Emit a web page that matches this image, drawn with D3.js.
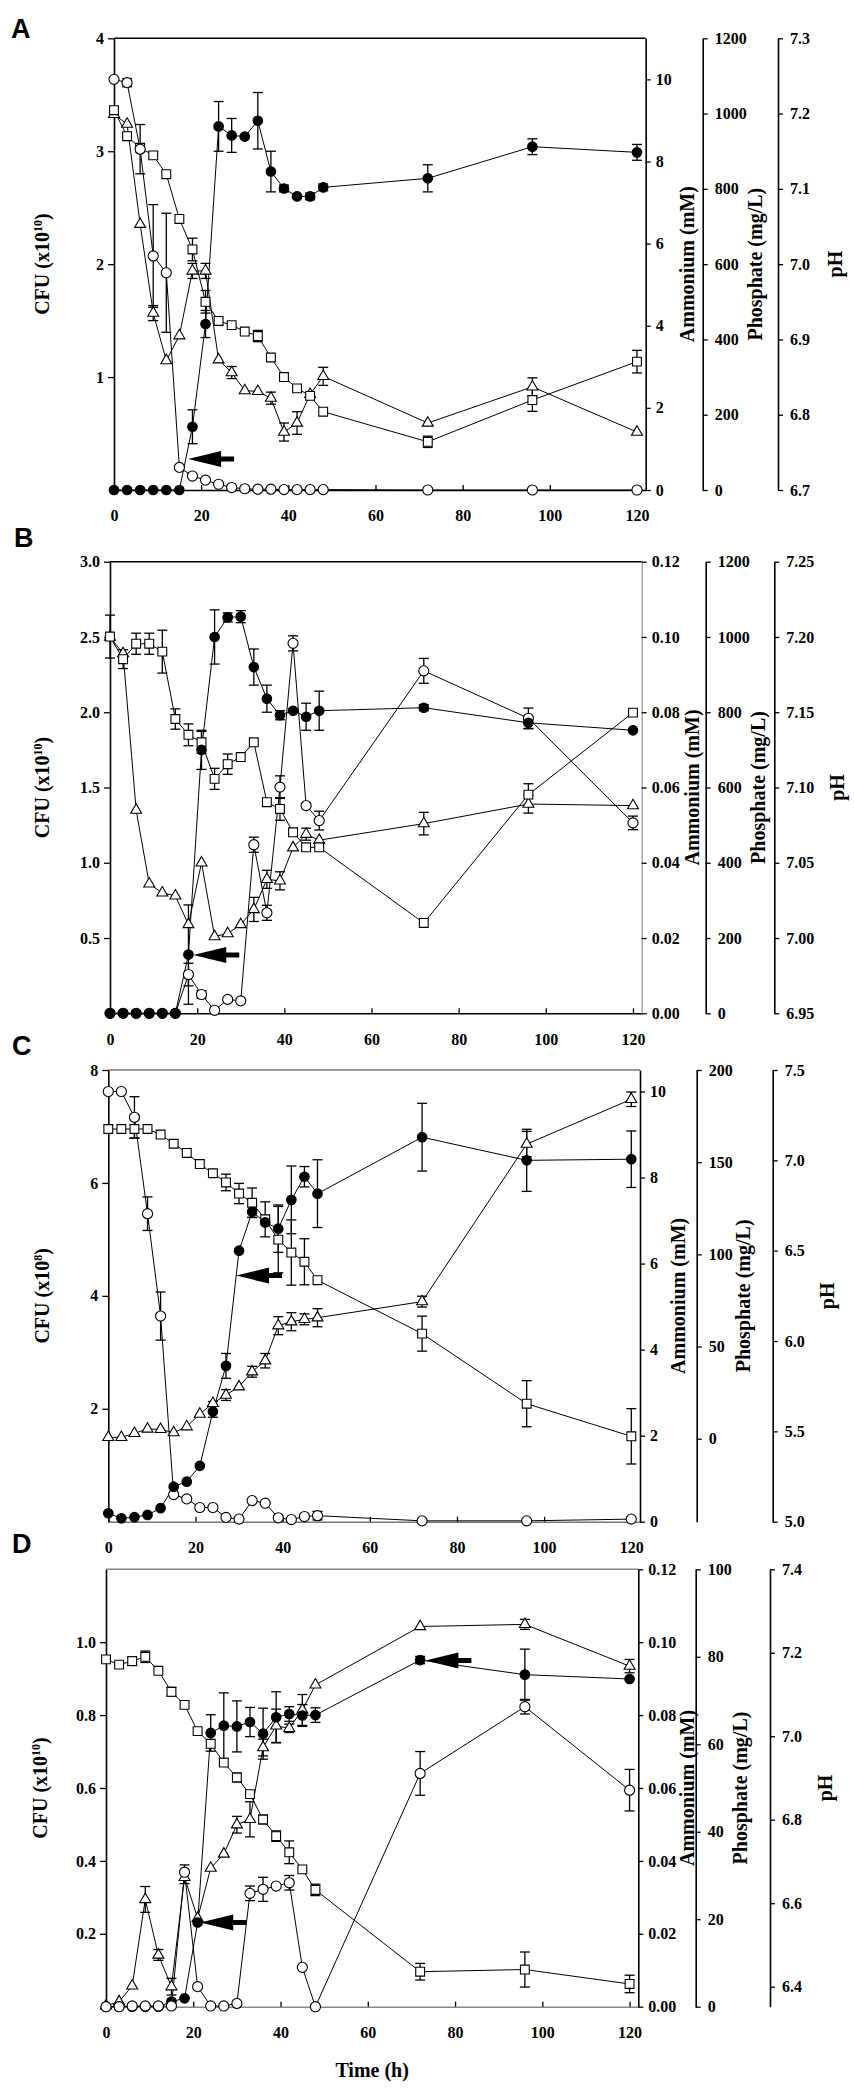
<!DOCTYPE html>
<html>
<head>
<meta charset="utf-8">
<script src="https://cdn.jsdelivr.net/npm/d3@7"></script>
<style>
  body { margin: 0; background: #fff; }
  text { font-family: "Liberation Serif", "Times New Roman", serif; font-weight: bold; }
</style>
</head>
<body>
<svg id="chart"></svg>
<script>
// sampling times (h), same for all four panels
const hours = [0, 3, 6, 9, 12, 15, 18, 21, 24, 27, 30, 33, 36, 39, 42, 45, 48, 72, 96, 120];
const timeTicks = [0, 20, 40, 60, 80, 100, 120];

// ---- Panel A ----
const aCfu     = [0, 0, 0, 0, 0, 0, 0.56, 1.47, 3.22, 3.14, 3.13, 3.27, 2.82, 2.67, 2.60, 2.60, 2.68, 2.76, 3.04, 2.99];
const aCfuErr  = [0, 0, 0, 0, 0, 0, 0.15, 0.12, 0.22, 0.15, 0, 0.25, 0.18, 0.03, 0, 0.03, 0.03, 0.12, 0.07, 0.07];
const aAmm     = [10.0, 9.92, 8.3, 5.70, 5.29, 0.55, 0.34, 0.24, 0.14, 0.06, 0.03, 0.02, 0.02, 0.01, 0.01, 0.01, 0.01, 0, 0, 0];
const aAmmErr  = [0, 0.1, 0.6, 1.25, 1.45, 0, 0, 0, 0, 0, 0, 0, 0, 0, 0, 0, 0, 0, 0, 0];
const aPhos    = [1009, 940, 909, 889, 839, 720, 639, 500, 449, 438, 421, 409, 352, 300, 270, 250, 208, 128, 239, 341];
const aPhosErr = [10, 0, 0, 10, 0, 0, 30, 30, 0, 0, 0, 15, 0, 0, 0, 0, 0, 15, 30, 30];
const aPh      = [7.199, 7.186, 7.053, 6.935, 6.872, 6.905, 6.991, 6.991, 6.873, 6.856, 6.832, 6.831, 6.822, 6.777, 6.789, 6.827, 6.851, 6.789, 6.837, 6.777];
const aPhErr   = [0, 0, 0, 0.01, 0, 0, 0.01, 0.01, 0, 0.008, 0, 0, 0.008, 0.012, 0.015, 0, 0.012, 0, 0.012, 0];

// ---- Panel B ----
const bCfu     = [0, 0, 0, 0, 0, 0, 0.39, 1.75, 2.50, 2.63, 2.635, 2.30, 2.09, 1.98, 2.01, 1.97, 2.01, 2.03, 1.93, 1.88];
const bCfuErr  = [0, 0, 0, 0, 0, 0, 0.33, 0.13, 0.18, 0.03, 0.04, 0.12, 0.09, 0.03, 0, 0.09, 0.13, 0.02, 0.04, 0];
const bAmm     = [0, 0, 0, 0, 0, 0, 0.0103, 0.0050, 0.0008, 0.0037, 0.0033, 0.0448, 0.0267, 0.0601, 0.0983, 0.0552, 0.0512, 0.0910, 0.0784, 0.0506];
const bAmmErr  = [0, 0, 0, 0, 0, 0, 0.003, 0.001, 0, 0, 0, 0.002, 0.002, 0.003, 0.002, 0, 0.0025, 0.0033, 0.0027, 0.0018];
const bPhos    = [1001, 941, 982, 982, 961, 782, 740, 720, 623, 662, 681, 720, 561, 543, 481, 441, 441, 240, 581, 799];
const bPhosErr = [57, 25, 28, 28, 57, 27, 29, 29, 28, 27, 0, 0, 0, 30, 0, 0, 0, 0, 29, 0];
const bPh      = [7.200, 7.189, 7.085, 7.036, 7.030, 7.028, 7.009, 7.050, 7.001, 7.003, 7.009, 7.019, 7.039, 7.038, 7.060, 7.069, 7.065, 7.076, 7.089, 7.088];
const bPhErr   = [0, 0, 0, 0, 0, 0, 0, 0, 0, 0, 0, 0.008, 0.006, 0.006, 0, 0.004, 0, 0.0075, 0.006, 0];

// ---- Panel C ----
const cCfu     = [0.15, 0.06, 0.08, 0.12, 0.24, 0.62, 0.71, 0.99, 1.95, 2.76, 4.80, 5.49, 5.30, 5.19, 5.70, 6.11, 5.81, 6.81, 6.40, 6.42];
const cCfuErr  = [0, 0, 0, 0, 0, 0, 0, 0, 0.1, 0.22, 0, 0.1, 0, 0.42, 0.6, 0.18, 0.6, 0.6, 0.55, 0.5];
const cAmm     = [10.0, 10.0, 9.4, 7.16, 4.78, 0.63, 0.53, 0.33, 0.33, 0.10, 0.06, 0.49, 0.43, 0.09, 0.05, 0.12, 0.14, 0.02, 0.02, 0.06];
const cAmmErr  = [0, 0, 0.48, 0.39, 0.56, 0, 0, 0, 0, 0, 0, 0, 0, 0, 0, 0, 0.1, 0, 0, 0];
const cPhos    = [168, 168, 168, 168, 165, 160, 155, 149, 144, 139, 133, 128, 119, 108, 101, 96, 86, 57, 19, 1.3];
const cPhosErr = [0, 0, 5, 0, 0, 0, 0, 0, 0, 4.5, 5.5, 8, 9.5, 18, 17.7, 12.5, 0, 9.5, 12.5, 15];
const cPh      = [5.467, 5.467, 5.489, 5.513, 5.511, 5.493, 5.526, 5.596, 5.655, 5.701, 5.747, 5.830, 5.891, 6.085, 6.107, 6.120, 6.129, 6.218, 7.090, 7.338];
const cPhErr   = [0, 0, 0, 0, 0, 0, 0, 0, 0.01, 0.03, 0, 0.03, 0.04, 0.05, 0.05, 0.03, 0.05, 0.03, 0.07, 0.04];

// ---- Panel D ----
const dCfu     = [0, 0, 0, 0, 0, 0.014, 0.023, 0.231, 0.751, 0.771, 0.769, 0.781, 0.749, 0.794, 0.803, 0.799, 0.800, 0.951, 0.911, 0.899];
const dCfuErr  = [0, 0, 0, 0, 0, 0, 0, 0, 0.05, 0.09, 0.07, 0.04, 0.07, 0.07, 0.02, 0.03, 0.02, 0.01, 0.07, 0];
const dAmm     = [0, 0, 0.0002, 0.0002, 0.0002, 0.0002, 0.0369, 0.0055, 0.0002, 0.0002, 0.0009, 0.0311, 0.0322, 0.0331, 0.0340, 0.0108, 0, 0.0640, 0.0823, 0.0594];
const dAmmErr  = [0, 0, 0, 0, 0, 0, 0.002, 0, 0, 0, 0, 0.002, 0.0033, 0, 0.002, 0, 0, 0.006, 0.002, 0.0057];
const dPhos    = [79.4, 78.2, 79.0, 80.0, 76.8, 72.0, 69.0, 63.0, 60.1, 55.8, 52.4, 48.6, 42.8, 39.0, 35.3, 31.4, 26.7, 8.0, 8.5, 5.2];
const dPhosErr = [0, 0, 1, 1.3, 0, 1, 0, 0, 0, 0, 1, 0, 1, 1.2, 2.6, 0, 1.3, 1.9, 4, 2];
const dPh      = [6.354, 6.364, 6.402, 6.609, 6.476, 6.400, 6.662, 6.564, 6.684, 6.718, 6.788, 6.801, 6.973, 7.025, 7.019, 7.063, 7.123, 7.263, 7.268, 7.168];
const dPhErr   = [0, 0, 0, 0.031, 0.013, 0.02, 0.015, 0, 0, 0, 0.02, 0.042, 0.02, 0.04, 0.01, 0.037, 0, 0, 0.012, 0.016];

// tick values of every axis
const aCfuTicks = [1, 2, 3, 4], aAmmTicks = [0, 2, 4, 6, 8, 10], aPhosTicks = [0, 200, 400, 600, 800, 1000, 1200], aPhTicks = [6.7, 6.8, 6.9, 7.0, 7.1, 7.2, 7.3];
const bCfuTicks = [0.5, 1.0, 1.5, 2.0, 2.5, 3.0], bAmmTicks = [0, 0.02, 0.04, 0.06, 0.08, 0.10, 0.12], bPhosTicks = [0, 200, 400, 600, 800, 1000, 1200], bPhTicks = [6.95, 7.00, 7.05, 7.10, 7.15, 7.20, 7.25];
const cCfuTicks = [2, 4, 6, 8], cAmmTicks = [0, 2, 4, 6, 8, 10], cPhosTicks = [0, 50, 100, 150, 200], cPhTicks = [5.0, 5.5, 6.0, 6.5, 7.0, 7.5];
const dCfuTicks = [0.2, 0.4, 0.6, 0.8, 1.0], dAmmTicks = [0, 0.02, 0.04, 0.06, 0.08, 0.10, 0.12], dPhosTicks = [0, 20, 40, 60, 80, 100], dPhTicks = [6.4, 6.6, 6.8, 7.0, 7.2, 7.4];

// arrows: tip at (time, CFU value)
const aArrows = [[17.0, 0.274]];
const bArrows = [[19.1, 0.387]];
const cArrows = [[29.3, 4.36]];
const dArrows = [[21.6, 0.231], [73.2, 0.95]];

const panels = [
  { label: "A", lx: 11, ly: 38, left: 114, right: 645.7, top: 38.3, bottom: 490, phosX: 702.7, phX: 778,
    tx: [42, 687, 755, 835], exp: "10", frameColor: ["#000", "#000", "#000"], openOnTop: false,
    cfu: [aCfu, aCfuErr, [0, 4], aCfuTicks, "d"], amm: [aAmm, aAmmErr, [0, 11], aAmmTicks, "d"],
    phos: [aPhos, aPhosErr, [0, 1200], aPhosTicks, "d"], ph: [aPh, aPhErr, [6.7, 7.3], aPhTicks, ".1f"], arrows: aArrows },
  { label: "B", lx: 14, ly: 547, left: 110, right: 641.7, top: 561.7, bottom: 1013.3, phosX: 705.7, phX: 774.3,
    tx: [42, 692, 758, 837], exp: "10", frameColor: ["#000", "#000", "#aaa"], openOnTop: false,
    cfu: [bCfu, bCfuErr, [0, 3], bCfuTicks, ".1f"], amm: [bAmm, bAmmErr, [0, 0.12], bAmmTicks, ".2f"],
    phos: [bPhos, bPhosErr, [0, 1200], bPhosTicks, "d"], ph: [bPh, bPhErr, [6.95, 7.25], bPhTicks, ".2f"], arrows: bArrows },
  { label: "C", lx: 12, ly: 1055, left: 108.3, right: 640, top: 1070, bottom: 1521.7, phosX: 696.7, phX: 772.7,
    tx: [42, 678, 742.5, 827], exp: "8", frameColor: ["#777", "#777", "#000"], openOnTop: false,
    cfu: [cCfu, cCfuErr, [0, 8], cCfuTicks, "d"], amm: [cAmm, cAmmErr, [0, 10.5], cAmmTicks, "d"],
    phos: [cPhos, cPhosErr, [-45, 200], cPhosTicks, "d"], ph: [cPh, cPhErr, [5.0, 7.5], cPhTicks, ".1f"], arrows: cArrows },
  { label: "D", lx: 12, ly: 1553, left: 106, right: 638.3, top: 1569.3, bottom: 2006.7, phosX: 695.7, phX: 770,
    tx: [40, 687, 740, 825], exp: "10", frameColor: ["#888", "#888", "#000"], openOnTop: true,
    cfu: [dCfu, dCfuErr, [0, 1.2], dCfuTicks, ".1f"], amm: [dAmm, dAmmErr, [0, 0.12], dAmmTicks, ".2f"],
    phos: [dPhos, dPhosErr, [0, 100], dPhosTicks, "d"], ph: [dPh, dPhErr, [6.352, 7.4], dPhTicks, ".1f"], arrows: dArrows }
];

const svg = d3.select("#chart").attr("width", 854).attr("height", 2100);

function styleAxis(sel, color) {
  sel.select(".domain").attr("stroke", color || "#000").attr("stroke-width", 1.6);
  sel.selectAll(".tick line").attr("stroke-width", 1.3);
  sel.selectAll(".tick text")
    .style("font-family", '"Liberation Serif", "Times New Roman", serif')
    .style("font-weight", "bold")
    .style("font-size", "16px")
    .attr("fill", "#000");
}

function vTitle(g, x, y, txt, exp) {
  const t = g.append("text")
    .attr("transform", `translate(${x},${y}) rotate(-90)`)
    .attr("text-anchor", "middle")
    .attr("dy", "0.35em")
    .style("font-size", "20px");
  if (exp) {
    t.append("tspan").text(txt);
    t.append("tspan").attr("dy", -7).style("font-size", "12px").text(exp);
    t.append("tspan").attr("dy", 7).text(")");
  } else {
    t.text(txt);
  }
}

function drawPanel(p) {
  const g = svg.append("g");
  const x = d3.scaleLinear().domain([0, 122]).range([p.left, p.right]);
  const yC = d3.scaleLinear().domain(p.cfu[2]).range([p.bottom, p.top]);
  const yA = d3.scaleLinear().domain(p.amm[2]).range([p.bottom, p.top]);
  const yP = d3.scaleLinear().domain(p.phos[2]).range([p.bottom, p.top]);
  const yH = d3.scaleLinear().domain(p.ph[2]).range([p.bottom, p.top]);
  const mid = (p.top + p.bottom) / 2;

  // top of the frame
  g.append("line")
    .attr("x1", p.left).attr("x2", p.right)
    .attr("y1", p.top).attr("y2", p.top)
    .attr("stroke", p.frameColor[0]).attr("stroke-width", 1.6);

  // axes
  g.append("g").attr("transform", `translate(0,${p.bottom})`)
    .call(d3.axisBottom(x).tickValues(timeTicks).tickSize(-5).tickSizeOuter(0).tickPadding(20))
    .call(s => styleAxis(s, p.frameColor[1]));
  g.append("g").attr("transform", `translate(${p.left},0)`)
    .call(d3.axisLeft(yC).tickValues(p.cfu[3]).tickFormat(d3.format(p.cfu[4])).tickSize(6).tickSizeOuter(0).tickPadding(4))
    .call(s => styleAxis(s));
  g.append("g").attr("transform", `translate(${p.right},0)`)
    .call(d3.axisRight(yA).tickValues(p.amm[3]).tickFormat(d3.format(p.amm[4])).tickSize(5).tickSizeOuter(0).tickPadding(5))
    .call(s => styleAxis(s, p.frameColor[2]));
  g.append("g").attr("transform", `translate(${p.phosX},0)`)
    .call(d3.axisRight(yP).tickValues(p.phos[3]).tickFormat(d3.format(p.phos[4])).tickSize(5).tickSizeOuter(0).tickPadding(7))
    .call(s => styleAxis(s));
  g.append("g").attr("transform", `translate(${p.phX},0)`)
    .call(d3.axisRight(yH).tickValues(p.ph[3]).tickFormat(d3.format(p.ph[4])).tickSize(5).tickSizeOuter(0).tickPadding(7))
    .call(s => styleAxis(s));

  // axis titles
  vTitle(g, p.tx[0], mid, "CFU (x10", p.exp);
  vTitle(g, p.tx[1], mid, "Ammonium (mM)");
  vTitle(g, p.tx[2], mid, "Phosphate (mg/L)");
  vTitle(g, p.tx[3], mid, "pH");

  // panel letter
  g.append("text").attr("x", p.lx).attr("y", p.ly)
    .style("font-family", '"Liberation Sans", Arial, sans-serif')
    .style("font-size", "27px").style("font-weight", "bold")
    .text(p.label);

  // series: [values, errors, scale, marker]
  const ph   = { v: p.ph[0], e: p.ph[1], y: yH, m: "tri" };
  const phos = { v: p.phos[0], e: p.phos[1], y: yP, m: "sq" };
  const amm  = { v: p.amm[0], e: p.amm[1], y: yA, m: "open" };
  const cfu  = { v: p.cfu[0], e: p.cfu[1], y: yC, m: "fill" };
  const series = p.openOnTop ? [ph, phos, cfu, amm] : [ph, phos, amm, cfu];

  const line = (ys) => d3.line().x((d, i) => x(hours[i])).y(d => ys(d));
  series.forEach(s => {
    g.append("path").datum(s.v)
      .attr("d", line(s.y))
      .attr("fill", "none").attr("stroke", "#000").attr("stroke-width", 1);
  });

  // error bars
  series.forEach(s => {
    const eb = g.append("g").attr("stroke", "#000").attr("stroke-width", 1.3);
    s.v.forEach((v, i) => {
      if (!s.e[i]) return;
      const cx = x(hours[i]), y1 = s.y(v - s.e[i]), y2 = s.y(v + s.e[i]);
      eb.append("line").attr("x1", cx).attr("x2", cx).attr("y1", y1).attr("y2", y2);
      eb.append("line").attr("x1", cx - 5).attr("x2", cx + 5).attr("y1", y1).attr("y2", y1);
      eb.append("line").attr("x1", cx - 5).attr("x2", cx + 5).attr("y1", y2).attr("y2", y2);
    });
  });

  // markers
  const shapes = {
    tri: d3.symbol(d3.symbolTriangle, 52),
    sq: d3.symbol(d3.symbolSquare, 78),
    open: d3.symbol(d3.symbolCircle, 80),
    fill: d3.symbol(d3.symbolCircle, 72)
  };
  series.forEach(s => {
    g.append("g").selectAll("path")
      .data(s.v)
      .join("path")
      .attr("transform", (d, i) => `translate(${x(hours[i])},${s.y(d)})`)
      .attr("d", shapes[s.m]())
      .attr("fill", s.m === "fill" ? "#000" : "#fff")
      .attr("stroke", "#000").attr("stroke-width", 1.1);
  });

  // arrows pointing left at the marked point
  p.arrows.forEach(a => {
    const tx = x(a[0]), ty = yC(a[1]);
    g.append("path")
      .attr("d", `M${tx},${ty} L${tx + 33},${ty - 8} L${tx + 33},${ty - 2.5} L${tx + 46},${ty - 2.5} L${tx + 46},${ty + 2.5} L${tx + 33},${ty + 2.5} L${tx + 33},${ty + 8} Z`)
      .attr("fill", "#000");
  });
}

panels.forEach(drawPanel);

// x-axis title under the last panel
svg.append("text")
  .attr("x", (panels[3].left + panels[3].right) / 2)
  .attr("y", 2077)
  .attr("text-anchor", "middle")
  .style("font-size", "20px")
  .text("Time (h)");
</script>
</body>
</html>
